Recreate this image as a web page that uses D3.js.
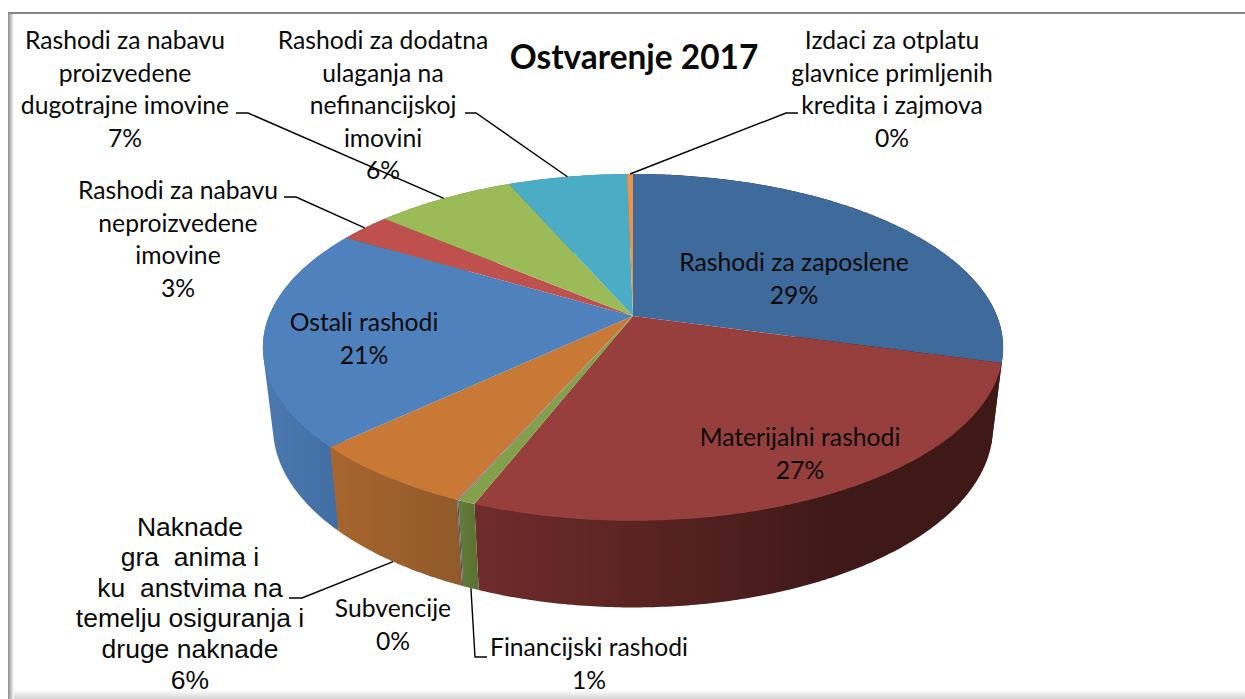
<!DOCTYPE html>
<html>
<head>
<meta charset="utf-8">
<script src="https://cdn.jsdelivr.net/npm/d3@7"></script>
<style>
  html, body { margin: 0; padding: 0; background: #fff; }
  svg { display: block; }
  text { fill: #0a0a0a; text-anchor: middle; }
</style>
</head>
<body>
<div id="chart"></div>
<script>
// slices run clockwise from 12 o'clock, same order as the legend-less labels
const categories = [
  "Rashodi za zaposlene",
  "Materijalni rashodi",
  "Financijski rashodi",
  "Subvencije",
  "Naknade građanima i kućanstvima",
  "Ostali rashodi",
  "Rashodi za nabavu neproizvedene imovine",
  "Rashodi za nabavu proizvedene dugotrajne imovine",
  "Rashodi za dodatna ulaganja na nefinancijskoj imovini",
  "Izdaci za otplatu glavnice primljenih kredita i zajmova",
];
const values = [29.3, 26.6, 0.65, 0.05, 6.4, 20.5, 2.7, 7.3, 6.2, 0.3];
const percentLabels = ["29%", "27%", "1%", "0%", "6%", "21%", "3%", "7%", "6%", "0%"];

const topColors = ["#3f6a9c", "#973f3d", "#83a04b", "#7560a0", "#c87935", "#4f81bd", "#be504d", "#9bbb59", "#4bacc6", "#f0934a"];
const wallLeft = ["#3f1918", "#702c2c", "#647d3a", "#5a4a7c", "#a8652e", "#4c7ab0", "#8f3c3a", "#76904a", "#3a8497", "#b87038"];
const wallRight = ["#3f1918", "#3f1918", "#5b7033", "#54456f", "#8f5a2a", "#3f6b9f", "#7f3533", "#6a8040", "#337586", "#a86532"];

const width = 1245;
const height = 699;

// text blocks: the broken glyphs in the Naknade label are blank in the picture too
const labelLayout = [
  { lines: ["Rashodi za zaposlene"], x: 794, y: 271 },
  { lines: ["Materijalni rashodi"], x: 800, y: 446 },
  { lines: ["Financijski rashodi"], x: 589, y: 656, pitch: 33, elbow: [[487, 657], [475, 657]], level: 1 },
  { lines: ["Subvencije"], x: 393, y: 617 },
  {
    lines: ["Naknade", "gra\u00a0\u00a0anima i", "ku\u00a0\u00a0anstvima na", "temelju osiguranja i", "druge naknade"],
    x: 190, y: 535.5, pitch: 30.6, arial: true, elbow: [[289, 598], [302, 598]], level: 1,
  },
  { lines: ["Ostali rashodi"], x: 364, y: 331 },
  { lines: ["Rashodi za nabavu", "neproizvedene", "imovine"], x: 178, y: 199, elbow: [[284, 197], [296, 197]], level: 0 },
  { lines: ["Rashodi za nabavu", "proizvedene", "dugotrajne imovine"], x: 125, y: 49, elbow: [[236, 113], [248, 113]], level: 0 },
  { lines: ["Rashodi za dodatna", "ulaganja na", "nefinancijskoj", "imovini"], x: 383, y: 49, elbow: [[465, 113], [476, 113]], level: 0 },
  { lines: ["Izdaci za otplatu", "glavnice primljenih", "kredita i zajmova"], x: 892, y: 49, elbow: [[798, 113], [786, 113]], level: 0 },
];

// perspective disks for the top face and the bottom of the wall
const disks = [
  { cx: 633, cy: 316, a: 364, b: 167.7, k: 0.181 },
  { cx: 633, cy: 395, a: 354, b: 174, k: 0.181 },
];

function project(angle, level, radius = 1) {
  const d = disks[level];
  const u = Math.sin(angle) * radius;
  const v = Math.cos(angle) * radius;
  const w = 1 + d.k * v;
  return [d.cx + (d.a * u) / w, d.cy - (d.b * v) / w];
}

function rim(start, end, level) {
  const n = Math.max(2, Math.ceil((end - start) / 0.01));
  return d3.range(n + 1).map((i) => project(start + ((end - start) * i) / n, level));
}

const svg = d3.select("#chart").append("svg").attr("width", width).attr("height", height);
const defs = svg.append("defs");
const line = d3.line();

// frame
const edgeLeft = defs.append("linearGradient").attr("id", "edge-left");
edgeLeft.append("stop").attr("offset", 0).attr("stop-color", "#8a8a8a");
edgeLeft.append("stop").attr("offset", 1).attr("stop-color", "#fff");
const edgeBottom = defs.append("linearGradient").attr("id", "edge-bottom").attr("x2", 0).attr("y2", 1);
edgeBottom.append("stop").attr("offset", 0).attr("stop-color", "#fff");
edgeBottom.append("stop").attr("offset", 1).attr("stop-color", "#d4d4d4");

svg.append("rect").attr("x", 8).attr("y", 690).attr("width", width - 8).attr("height", 9).attr("fill", "url(#edge-bottom)");
svg.append("rect").attr("x", 8).attr("y", 12).attr("width", 6).attr("height", height - 12).attr("fill", "url(#edge-left)");
svg.append("rect").attr("x", 8).attr("y", 12).attr("width", width - 8).attr("height", 2).attr("fill", "#858585");

const pie = d3.pie().sort(null).value((d) => d);
const arcs = pie(values);

// walls, back to front, then the top face hides whatever is behind it
const walls = svg.append("g");
const wallOrder = arcs
  .map((d, i) => ({ ...d, i }))
  .sort((a, b) => Math.cos((b.startAngle + b.endAngle) / 2) - Math.cos((a.startAngle + a.endAngle) / 2));

wallOrder.forEach((d) => {
  const top = rim(d.startAngle, d.endAngle, 0);
  const bottom = rim(d.startAngle, d.endAngle, 1);
  const xs = top.concat(bottom).map((p) => p[0]);
  const grad = defs.append("linearGradient")
    .attr("id", `wall-${d.i}`)
    .attr("gradientUnits", "userSpaceOnUse")
    .attr("x1", d3.min(xs))
    .attr("x2", Math.min(d3.max(xs), 835));
  grad.append("stop").attr("offset", 0).attr("stop-color", wallLeft[d.i]);
  grad.append("stop").attr("offset", 1).attr("stop-color", wallRight[d.i]);
  // hull gives the straight tangent edge where the wall leaves the top disk
  walls.append("path")
    .attr("d", line(d3.polygonHull(top.concat(bottom))) + "Z")
    .attr("fill", `url(#wall-${d.i})`);
});

svg.append("g")
  .selectAll("path")
  .data(arcs)
  .join("path")
  .attr("d", (d) => line([project(0, 0, 0)].concat(rim(d.startAngle, d.endAngle, 0))) + "Z")
  .attr("fill", (d) => topColors[d.index]);

// leader lines end on the rim at the middle of their slice
svg.append("g")
  .selectAll("path")
  .data(arcs.filter((d) => labelLayout[d.index].elbow))
  .join("path")
  .attr("d", (d) => {
    const l = labelLayout[d.index];
    return line(l.elbow.concat([project((d.startAngle + d.endAngle) / 2, l.level)]));
  })
  .attr("fill", "none")
  .attr("stroke", "#000")
  .attr("stroke-width", 1.4);

// labels
labelLayout.forEach((l, i) => {
  const pitch = l.pitch || 32.6;
  const t = svg.append("text")
    .attr("y", l.y)
    .attr("font-family", l.arial ? "'Liberation Sans', Arial, sans-serif" : "Lato, Carlito, Calibri, sans-serif")
    .attr("font-size", l.arial ? 26.5 : 24.7);
  l.lines.concat(percentLabels[i]).forEach((s, j) => {
    t.append("tspan").attr("x", l.x).attr("y", l.y + j * pitch).text(s);
  });
});

svg.append("text")
  .attr("x", 634)
  .attr("y", 69)
  .attr("font-family", "Lato, Carlito, Calibri, sans-serif")
  .attr("font-weight", 700)
  .attr("font-size", 33.4)
  .text("Ostvarenje 2017");
</script>
</body>
</html>
